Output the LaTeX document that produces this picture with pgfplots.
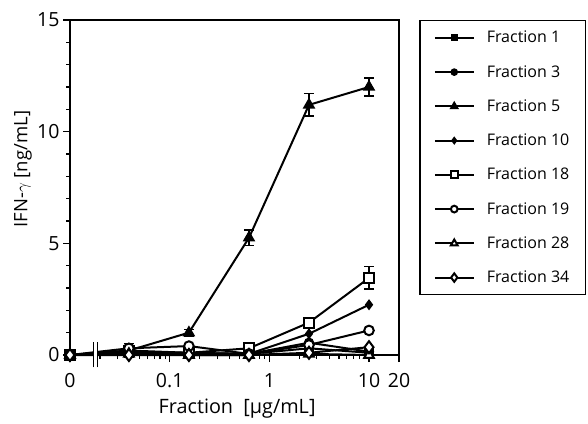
\documentclass[border=0pt]{standalone}
\usepackage{pgfplots}
\pgfplotsset{compat=1.18}
\usepackage{fontspec}
\setmainfont{Open Sans}

\pgfplotsset{
  frac/.style={black, line width=2pt, mark options={solid, line width=1.3pt}},
}

\begin{document}
\begin{tikzpicture}
\useasboundingbox (0,0) rectangle (588pt,423pt);
\begin{axis}[
    at={(70pt,68pt)}, anchor=south west,
    scale only axis, width=329pt, height=335pt,
    xmode=log, log basis x=10,
    xmin=0.01, xmax=20, ymin=0, ymax=15,
    xtick={0.01,0.1,1,10,20}, xticklabels={0,0.1,1,10,20},
    minor xtick={0.02,0.03,0.04,0.05,0.06,0.07,0.08,0.09,0.2,0.3,0.4,0.5,0.6,0.7,0.8,0.9,2,3,4,5,6,7,8,9},
    ytick={0,5,10,15}, minor ytick={1,2,3,4,6,7,8,9,11,12,13,14},
    xtick pos=bottom, ytick pos=left, tick align=outside,
    major tick length=7pt, minor tick length=4pt,
    axis line style={line width=1.4pt}, tick style={line width=1.2pt, black},
    /pgf/number format/assume math mode=true,
    tick label style={font=\fontsize{19.5}{21}\selectfont},
    xticklabel style={yshift=-8pt},
    xlabel={Fraction\ \ [µg/mL]}, ylabel={IFN-$\gamma$ [ng/mL]},
    xlabel style={font=\fontsize{19.8}{22}\selectfont, at={(axis description cs:0.508,-0.161)}, anchor=center},
    ylabel style={font=\fontsize{18.5}{20}\selectfont, at={(axis description cs:-0.143,0.555)}, anchor=center},
    clip=false,
    legend cell align=left,
    legend style={at={(rel axis cs:1.0608,1)}, anchor=north west,
                  draw=black, line width=1.5pt,
                  font=\fontsize{16}{18}\selectfont,
                  row sep=17pt, inner xsep=14pt, inner ysep=8.5pt,
                  /tikz/every odd column/.append style={column sep=10pt}},
    legend image code/.code={\draw[mark repeat=2,mark phase=2,every mark/.append style={scale=0.7}]
        plot coordinates {(0pt,0pt) (19.5pt,0pt) (39pt,0pt)};},
    error bars/y dir=both, error bars/y explicit,
    error bars/error bar style={line width=1.3pt},
    error bars/error mark options={rotate=90, mark size=5pt, line width=1.3pt},
    after end axis/.code={
      \fill[white] (axis cs:0.0171,-0.6) rectangle (axis cs:0.0189,0.6);
      \draw[line width=1.3pt] (axis cs:0.0171,-0.55) -- (axis cs:0.0171,0.58);
      \draw[line width=1.3pt] (axis cs:0.0189,-0.55) -- (axis cs:0.0189,0.58);
    },
]
  % Fraction 1
  \addplot[frac, mark=square*, mark size=4.2pt] coordinates {
    (0.01,0) (0.039,0.10) (0.156,0.05) (0.625,0.05) (2.5,0.30) (10,0.10)};
  % Fraction 3
  \addplot[frac, mark=*, mark size=4.5pt] coordinates {
    (0.01,0) (0.039,0.15) (0.156,0.10) (0.625,0.05) (2.5,0.55) (10,0.15)};
  % Fraction 5
  \addplot[frac, mark=triangle*, mark size=6pt] coordinates {
    (0.01,0) +- (0,0) (0.039,0.20) +- (0,0.30) (0.156,1.00) +- (0,0.15)
    (0.625,5.25) +- (0,0.35) (2.5,11.20) +- (0,0.50) (10,12.00) +- (0,0.40)};
  % Fraction 10
  \addplot[frac, mark=diamond*, mark size=4.5pt] coordinates {
    (0.01,0) (0.039,0.10) (0.156,0.10) (0.625,0.05) (2.5,0.95) (10,2.25)};
  % Fraction 18
  \addplot[frac, mark=square*, mark size=5pt, mark options={fill=white}] coordinates {
    (0.01,0) +- (0,0) (0.039,0.20) +- (0,0) (0.156,0.10) +- (0,0)
    (0.625,0.30) +- (0,0) (2.5,1.45) +- (0,0.10) (10,3.45) +- (0,0.50)};
  % Fraction 19
  \addplot[frac, mark=*, mark size=4.8pt, mark options={fill=white}] coordinates {
    (0.01,0) (0.039,0.30) (0.156,0.40) (0.625,0.05) (2.5,0.45) (10,1.10)};
  % Fraction 28
  \addplot[frac, mark=triangle*, mark size=5.5pt, mark options={fill=white}] coordinates {
    (0.01,0) (0.039,0.05) (0.156,0.00) (0.625,0.00) (2.5,0.05) (10,0.00)};
  % Fraction 34
  \addplot[frac, mark=diamond*, mark size=6pt, mark options={fill=white}] coordinates {
    (0.01,0) (0.039,0.00) (0.156,0.00) (0.625,0.00) (2.5,0.10) (10,0.35)};
  \legend{Fraction 1, Fraction 3, Fraction 5, Fraction 10, Fraction 18, Fraction 19, Fraction 28, Fraction 34}
\end{axis}
\end{tikzpicture}
\end{document}
